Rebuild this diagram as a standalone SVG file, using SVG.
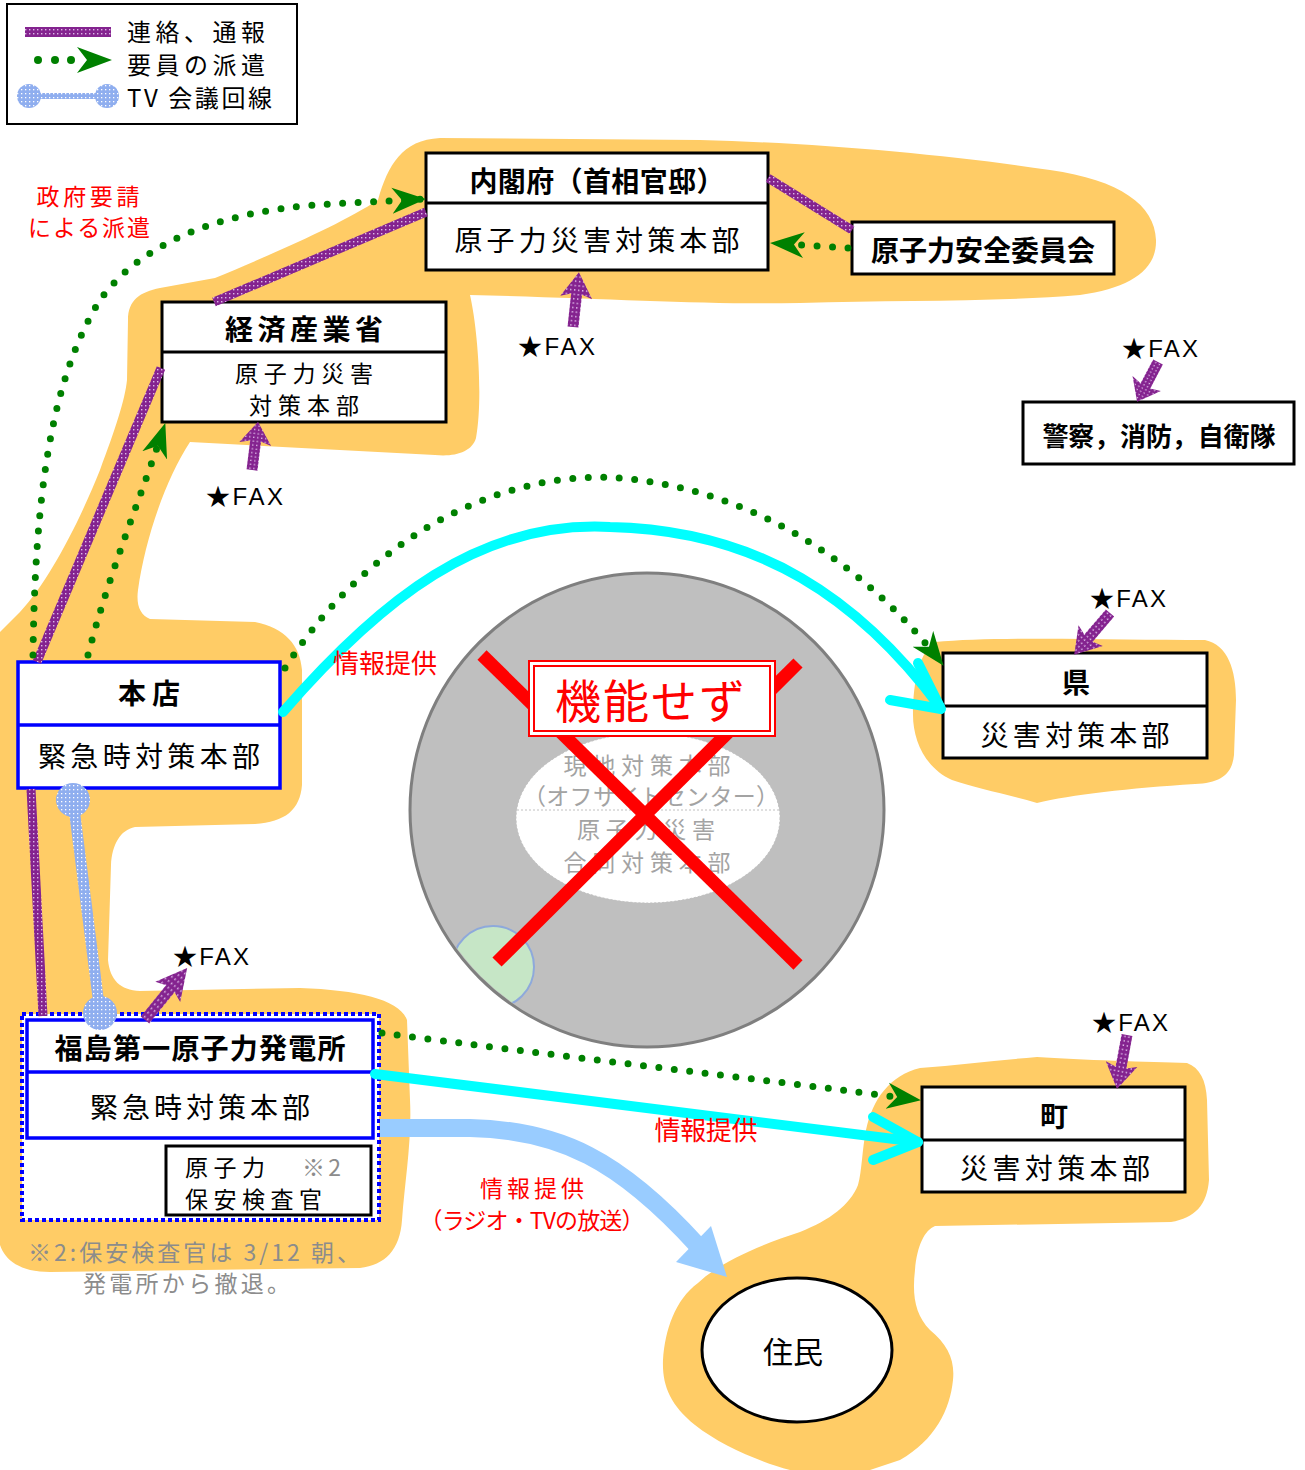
<svg xmlns="http://www.w3.org/2000/svg" width="1305" height="1470" viewBox="0 0 1305 1470">
<style>
.jp{font-family:"Noto Sans CJK JP","Noto Sans CJK SC",sans-serif;dominant-baseline:central}
.b{font-weight:bold}
.t28{font-size:28px}
.t26{font-size:26px}
.t25{font-size:25px}
.t24{font-size:24px}
.t23{font-size:23px}
.fax{font-family:"Liberation Sans","Noto Sans CJK JP",sans-serif;font-size:24px;dominant-baseline:central}
.red{fill:#FF0000}
.gray{fill:#8C8C8C}
.ig{fill:#A3A3A3}
.box{fill:#FFFFFF;stroke:#000000;stroke-width:3}
.bbox{fill:#FFFFFF;stroke:#0000FF;stroke-width:3.5}
.orange{fill:#FFCC66}
.purp{fill:none;stroke:url(#pp);stroke-width:9}
.dots{fill:none;stroke:#008000;stroke-width:7;stroke-linecap:round;stroke-dasharray:0 15.5;marker-end:url(#ga)}
.cyan{fill:none;stroke:#00FFFF;stroke-width:10;stroke-linecap:round;stroke-linejoin:round}
</style>
<defs>
<pattern id="pp" width="4" height="4" patternUnits="userSpaceOnUse"><rect width="4" height="4" fill="#84238F"/><rect x="1" y="1" width="1.4" height="1.4" fill="#DDB8E8"/></pattern>
<pattern id="bp" width="4" height="4" patternUnits="userSpaceOnUse"><rect width="4" height="4" fill="#8FAEEF"/><rect x="1" y="1" width="1.3" height="1.3" fill="#FFFFFF"/></pattern>
<marker id="ga" markerUnits="userSpaceOnUse" markerWidth="34" markerHeight="28" viewBox="0 0 34 28" refX="33" refY="14" orient="auto"><path d="M0,1 L34,14 L0,27 L10,14 Z" fill="#008000"/></marker>
<path id="faxa" d="M0,-5.5 L30,-5.5 L27,-16 L50,0 L27,16 L30,5.5 L0,5.5 Z" fill="url(#pp)"/>
<clipPath id="cc"><circle cx="647" cy="810" r="235"/></clipPath>
</defs>
<rect width="1305" height="1470" fill="#FFFFFF"/>

<g id="background">
<path class="orange" d="M0,632 L20,612 C50,580 80,520 100,470 C115,430 125,400 127,380 L128,320 C128,300 140,292 160,288 L215,278 C270,255 340,225 378,200 C388,165 402,140 440,138 L700,140 C820,143 950,155 1050,170 C1120,180 1155,205 1156,240 C1157,270 1130,288 1080,295 C1000,302 900,300 800,303 C700,305 600,298 470,295 C478,330 483,400 476,438 C472,452 455,457 435,455 L190,442 C165,480 145,540 138,590 C136,605 140,615 150,619 L255,622 C285,628 300,645 302,670 L302,785 C300,810 285,822 255,824 L135,827 C120,830 112,845 111,865 L108,960 C110,980 120,990 140,991 L300,988 C360,990 400,1000 407,1020 L410,1100 C412,1140 405,1180 402,1220 C400,1250 385,1265 360,1268 L50,1272 C20,1272 5,1260 0,1245 Z"/>
<path class="orange" d="M935,642 C1000,636 1120,640 1205,640 C1228,645 1236,670 1236,700 L1234,755 C1232,775 1220,783 1195,784 C1130,788 1070,795 1037,803 C1010,795 975,788 952,780 C925,768 913,740 913,715 C913,680 920,652 935,642 Z"/>
<path class="orange" d="M920,1068 C960,1065 1000,1060 1037,1057 C1080,1060 1150,1062 1187,1063 C1200,1068 1206,1080 1207,1100 L1209,1180 C1207,1205 1195,1218 1171,1222 L935,1226 C925,1230 917,1245 915,1270 C912,1295 915,1315 930,1330 C948,1345 955,1360 953,1380 C950,1410 935,1440 900,1460 L870,1470 L790,1470 C760,1462 720,1445 695,1425 C670,1405 662,1385 663,1360 C665,1330 675,1300 698,1283 C720,1262 760,1245 800,1232 C830,1220 850,1205 858,1185 C862,1170 862,1150 866,1130 C872,1100 890,1075 920,1068 Z"/>
</g>

<g id="legend">
<rect x="7" y="4" width="290" height="120" fill="#FFFFFF" stroke="#000000" stroke-width="2"/>
<rect x="25" y="27" width="86" height="10" fill="url(#pp)"/>
<circle cx="38" cy="60" r="4" fill="#008000"/><circle cx="55" cy="60" r="4" fill="#008000"/><circle cx="71" cy="60" r="4" fill="#008000"/>
<path d="M77,47 L112,60 L77,73 L87,60 Z" fill="#008000"/>
<rect x="29" y="93" width="78" height="6" fill="url(#bp)"/>
<circle cx="29" cy="96" r="12" fill="url(#bp)"/><circle cx="107" cy="96" r="12" fill="url(#bp)"/>
<text class="jp t24" x="127" y="30" textLength="138">連絡、通報</text>
<text class="jp t24" x="127" y="63" textLength="138">要員の派遣</text>
<text class="jp t24" x="127" y="96" textLength="145">TV 会議回線</text>
</g>

<g id="offsite-center">
<circle cx="647" cy="810" r="237" fill="#BFBFBF" stroke="#7F7F7F" stroke-width="3"/>
<circle cx="493" cy="967" r="41" fill="#C6E6C6" stroke="#8EA9DB" stroke-width="2" clip-path="url(#cc)"/>
<ellipse cx="648" cy="818" rx="132" ry="85" fill="#FFFFFF" stroke="#C0C0C0" stroke-width="1" stroke-dasharray="2 2"/>
<line x1="517" y1="810" x2="779" y2="810" stroke="#C0C0C0" stroke-width="1" stroke-dasharray="2 2"/>
<text class="jp t23 ig" x="647" y="764" text-anchor="middle" textLength="167">現地対策本部</text>
<text class="jp t23 ig" x="651" y="795" text-anchor="middle" textLength="256">（オフサイトセンター）</text>
<text class="jp t23 ig" x="646" y="828" text-anchor="middle" textLength="138">原子力災害</text>
<text class="jp t23 ig" x="647" y="861" text-anchor="middle" textLength="167">合同対策本部</text>
<line x1="482" y1="655" x2="798" y2="965" stroke="#FF0000" stroke-width="13"/>
<line x1="798" y1="663" x2="497" y2="962" stroke="#FF0000" stroke-width="13"/>
<rect x="529" y="661" width="246" height="75" fill="#FFFFFF" stroke="#FF0000" stroke-width="2"/>
<rect x="534" y="666" width="236" height="65" fill="none" stroke="#FF0000" stroke-width="2"/>
<text class="jp red" x="650" y="698" font-size="46" text-anchor="middle" textLength="190">機能せず</text>
</g>

<g id="node-naikakufu">
<rect class="box" x="426" y="153" width="342" height="117"/>
<line x1="426" y1="203" x2="768" y2="203" stroke="#000" stroke-width="3"/>
<text class="jp b t28" x="597" y="180" text-anchor="middle" textLength="255">内閣府（首相官邸）</text>
<text class="jp t28" x="597" y="239" text-anchor="middle" textLength="285">原子力災害対策本部</text>
</g>
<g id="node-anzen">
<rect class="box" x="852" y="222" width="262" height="52"/>
<text class="jp b t28" x="983" y="249" text-anchor="middle" textLength="224">原子力安全委員会</text>
</g>
<g id="node-meti">
<rect class="box" x="162" y="302" width="284" height="120"/>
<line x1="162" y1="352" x2="446" y2="352" stroke="#000" stroke-width="3"/>
<text class="jp b t28" x="304" y="328" text-anchor="middle" textLength="158">経済産業省</text>
<text class="jp t23" x="304" y="372" text-anchor="middle" textLength="138">原子力災害</text>
<text class="jp t23" x="304" y="404" text-anchor="middle" textLength="110">対策本部</text>
</g>
<g id="node-police">
<rect class="box" x="1023" y="402" width="271" height="62"/>
<text class="jp b t26" x="1159" y="434" text-anchor="middle" textLength="233">警察，消防，自衛隊</text>
</g>
<g id="node-honten">
<rect class="bbox" x="18" y="662" width="262" height="126"/>
<line x1="18" y1="725" x2="280" y2="725" stroke="#0000FF" stroke-width="3.5"/>
<text class="jp b t28" x="149" y="692" text-anchor="middle" textLength="62">本店</text>
<text class="jp t28" x="149" y="755" text-anchor="middle" textLength="222">緊急時対策本部</text>
</g>
<g id="node-ken">
<rect class="box" x="943" y="653" width="264" height="105"/>
<line x1="943" y1="706" x2="1207" y2="706" stroke="#000" stroke-width="3"/>
<text class="jp b t28" x="1076" y="681" text-anchor="middle">県</text>
<text class="jp t28" x="1075" y="734" text-anchor="middle" textLength="189">災害対策本部</text>
</g>
<g id="node-machi">
<rect class="box" x="922" y="1087" width="263" height="105"/>
<line x1="922" y1="1140" x2="1185" y2="1140" stroke="#000" stroke-width="3"/>
<text class="jp b t28" x="1054" y="1115" text-anchor="middle">町</text>
<text class="jp t28" x="1055" y="1167" text-anchor="middle" textLength="190">災害対策本部</text>
</g>
<g id="node-fukushima">
<rect x="22" y="1014" width="357" height="206" fill="#FFFFFF" stroke="#0000FF" stroke-width="4" stroke-dasharray="4 3"/>
<rect class="bbox" x="27" y="1020" width="346" height="118"/>
<line x1="27" y1="1072" x2="373" y2="1072" stroke="#0000FF" stroke-width="3.5"/>
<text class="jp b t28" x="200" y="1047" text-anchor="middle" textLength="291">福島第一原子力発電所</text>
<text class="jp t28" x="200" y="1106" text-anchor="middle" textLength="220">緊急時対策本部</text>
<rect class="box" x="166" y="1146" width="205" height="69"/>
<text class="jp t23" x="185" y="1166" textLength="80">原子力</text>
<text class="jp t23 gray" x="302" y="1166" textLength="39">※2</text>
<text class="jp t23" x="185" y="1198" textLength="137">保安検査官</text>
</g>
<g id="node-jumin">
<ellipse cx="797" cy="1350" rx="95" ry="72" fill="#FFFFFF" stroke="#000000" stroke-width="3"/>
<text class="jp" x="793" y="1350" font-size="30" text-anchor="middle">住民</text>
</g>

<g id="connectors">
<path class="purp" d="M37,662 L161,368"/>
<path class="purp" d="M214,302 L426,212"/>
<path class="purp" d="M768,178 L852,230"/>
<path class="purp" d="M31,789 L43,1016"/>
<line x1="73" y1="800" x2="100" y2="1013" stroke="url(#bp)" stroke-width="11"/>
<circle cx="73" cy="800" r="17" fill="url(#bp)"/>
<circle cx="100" cy="1013" r="17" fill="url(#bp)"/>
<path class="dots" d="M33,655 C35,500 50,380 100,300 C150,230 250,208 330,204 L425,199"/>
<path class="dots" d="M88,655 C110,570 140,500 165,424"/>
<path class="dots" d="M285,668 C380,520 520,470 620,478 C760,490 870,570 943,665"/>
<path class="dots" d="M848,248 L771,243"/>
<path class="dots" d="M382,1033 C550,1055 750,1078 920,1100"/>
<path class="cyan" d="M283,712 C380,600 480,520 610,527 C760,530 860,600 940,707"/>
<path class="cyan" d="M918,663 L941,709 L890,700"/>
<path class="cyan" d="M375,1074 L918,1142"/>
<path class="cyan" d="M873,1117 L918,1142 L873,1160"/>
<path d="M380,1128 L470,1128 C560,1130 620,1160 698,1246" fill="none" stroke="#99CCFF" stroke-width="18"/>
<path d="M727,1277 L711,1226 L676,1262 Z" fill="#99CCFF"/>
<use href="#faxa" transform="translate(573,327) rotate(-83.8) scale(1.1,1)"/>
<use href="#faxa" transform="translate(252,470) rotate(-82.9) scale(0.97,1)"/>
<use href="#faxa" transform="translate(1158,362) rotate(117.7) scale(0.9,1)"/>
<use href="#faxa" transform="translate(1110,613) rotate(130.6) scale(1.1,1)"/>
<use href="#faxa" transform="translate(145,1020) rotate(-51) scale(1.34,1)"/>
<use href="#faxa" transform="translate(1127,1035) rotate(100.5) scale(1.1,1)"/>
</g>

<g id="labels">
<text class="jp t23 red" x="88" y="195" text-anchor="middle" textLength="103">政府要請</text>
<text class="jp t23 red" x="89" y="226" text-anchor="middle" textLength="122">による派遣</text>
<text class="jp t26 red" x="385" y="661" text-anchor="middle" textLength="104">情報提供</text>
<text class="jp t26 red" x="706" y="1128" text-anchor="middle" textLength="103">情報提供</text>
<text class="jp t23 red" x="532" y="1187" text-anchor="middle" textLength="104">情報提供</text>
<text class="jp t23 red" x="532" y="1219" text-anchor="middle" textLength="225">（ラジオ・TVの放送）</text>
<text class="fax" x="518" y="346" textLength="77">★FAX</text>
<text class="fax" x="206" y="496" textLength="77">★FAX</text>
<text class="fax" x="1122" y="348" textLength="76">★FAX</text>
<text class="fax" x="1090" y="598" textLength="76">★FAX</text>
<text class="fax" x="173" y="956" textLength="76">★FAX</text>
<text class="fax" x="1092" y="1022" textLength="76">★FAX</text>
<text class="jp t23 gray" x="28" y="1251" textLength="332">※2:保安検査官は 3/12 朝、</text>
<text class="jp t23 gray" x="83" y="1282" textLength="207">発電所から撤退。</text>
</g>
</svg>
